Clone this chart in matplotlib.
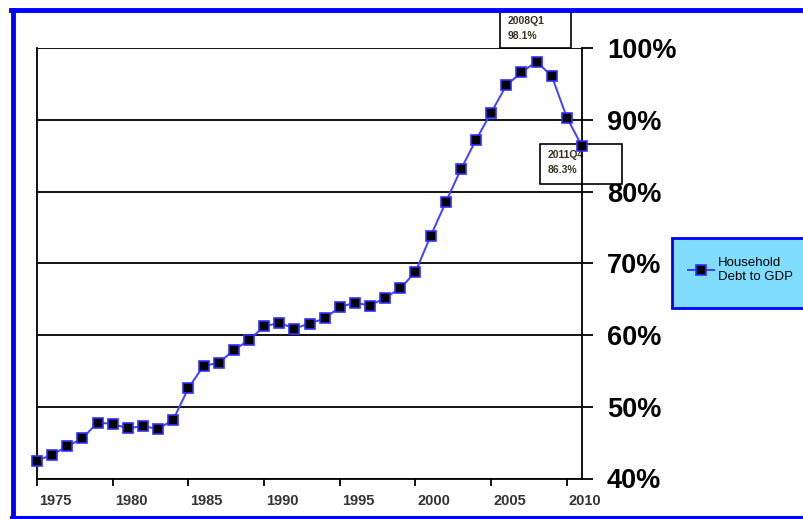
import matplotlib
matplotlib.use("Agg")
import matplotlib.pyplot as plt
from matplotlib.patches import Rectangle
from matplotlib.lines import Line2D

plt.rcParams['font.family'] = ['Liberation Sans', 'DejaVu Sans']

# Household debt as a share of GDP, yearly
years = [1975, 1976, 1977, 1978, 1979, 1980, 1981, 1982, 1983, 1984,
         1985, 1986, 1987, 1988, 1989, 1990, 1991, 1992, 1993, 1994,
         1995, 1996, 1997, 1998, 1999, 2000, 2001, 2002, 2003, 2004,
         2005, 2006, 2007, 2008, 2009, 2010, 2011]
debt_to_gdp = [42.5, 43.3, 44.5, 45.6, 47.8, 47.6, 47.0, 47.3, 46.9, 48.2,
               52.6, 55.7, 56.1, 57.9, 59.3, 61.2, 61.7, 60.9, 61.6, 62.3,
               63.9, 64.5, 64.1, 65.2, 66.5, 68.8, 73.8, 78.5, 83.1, 87.2,
               91.0, 94.8, 96.6, 98.1, 96.1, 90.3, 86.3]
series_name = "Household\nDebt to GDP"
x_ticks = [1975, 1980, 1985, 1990, 1995, 2000, 2005, 2010]
y_ticks = [40, 50, 60, 70, 80, 90, 100]
callouts = [("2008Q1", "98.1%"), ("2011Q4", "86.3%")]

W, H = 804, 519
fig = plt.figure(figsize=(W / 100, H / 100), dpi=100)


def fx(px):
    return px / W


def fy(py):
    return 1 - py / H


ax = fig.add_axes([fx(37), fy(478.5), fx(582) - fx(37), fy(48) - fy(478.5)])
ax.set_xlim(1975, 2011)
ax.set_ylim(40, 100)

line, = ax.plot(years, debt_to_gdp, color="#4040FF", lw=1.4,
                marker="s", markersize=7.5, markerfacecolor="black",
                markeredgecolor="#3030FF", markeredgewidth=1.2,
                clip_on=False, zorder=3, label=series_name)

# y axis on the right, horizontal rules across the plot
ax.yaxis.tick_right()
ax.set_yticks(y_ticks)
ax.set_yticklabels([f"{v}%" for v in y_ticks], fontsize=19.5, fontweight="bold")
ax.tick_params(axis="y", direction="out", length=8, width=1.3, pad=10,
               colors="black")
ax.grid(axis="y", color="black", lw=1.3, zorder=1)
ax.set_axisbelow(True)

# year labels sit just to the right of their ticks
ax.set_xticks(x_ticks)
ax.set_xticklabels([str(v) for v in x_ticks], fontsize=10.5, fontweight="bold",
                   color="#333333", ha="left")
ax.tick_params(axis="x", direction="out", length=5, width=1.3, pad=6)
for lab in ax.get_xticklabels():
    lab.set_x(lab.get_position()[0])
offset = matplotlib.transforms.ScaledTranslation(2 / 100, 0, fig.dpi_scale_trans)
for lab in ax.get_xticklabels():
    lab.set_transform(lab.get_transform() + offset)

ax.spines["top"].set_visible(False)
for s in ("left", "right", "bottom"):
    ax.spines[s].set_linewidth(1.3)
    ax.spines[s].set_color("black")
    ax.spines[s].set_zorder(2.5)

# value callouts
boxes = [(500, 10, 71, 38), (540, 144, 82, 40)]
for (label_a, label_b), (bx, by, bw, bh) in zip(callouts, boxes):
    rect = Rectangle((fx(bx), fy(by + bh)), fx(bw), bh / H,
                     transform=fig.transFigure, facecolor="white",
                     edgecolor="black", lw=1.2, clip_on=False, zorder=1.5)
    ax.add_artist(rect)
    ax.text(fx(bx + 8), fy(by + 11), label_a, transform=fig.transFigure,
            fontsize=7.5, fontweight="bold", color="#3a3020", va="center",
            ha="left", clip_on=False, zorder=1.6)
    ax.text(fx(bx + 8), fy(by + 26), label_b, transform=fig.transFigure,
            fontsize=7.5, fontweight="bold", color="#3a3020", va="center",
            ha="left", clip_on=False, zorder=1.6)

# legend panel
panel = Rectangle((fx(672), fy(308)), fx(140), 70 / H,
                  transform=fig.transFigure, facecolor="#80DDFF",
                  edgecolor="#0000FF", lw=2, zorder=4)
fig.add_artist(panel)
fig.legend(handles=[line], loc="center left",
           bbox_to_anchor=(fx(676), fy(270)), frameon=False,
           handlelength=2.0, handletextpad=0.25, labelspacing=0.2,
           prop={"size": 9.5})

# outer blue frame
frame_kw = dict(transform=fig.transFigure, color="#0000FF", zorder=10)
fig.add_artist(Line2D([fx(13), fx(13)], [fy(10), fy(517)], lw=3.5, **frame_kw))
fig.add_artist(Line2D([fx(11.5), 1], [fy(10), fy(10)], lw=3.5, **frame_kw))
fig.add_artist(Line2D([fx(11.5), 1], [fy(517), fy(517)], lw=2.2, **frame_kw))

fig.savefig("out.png", dpi=100)
